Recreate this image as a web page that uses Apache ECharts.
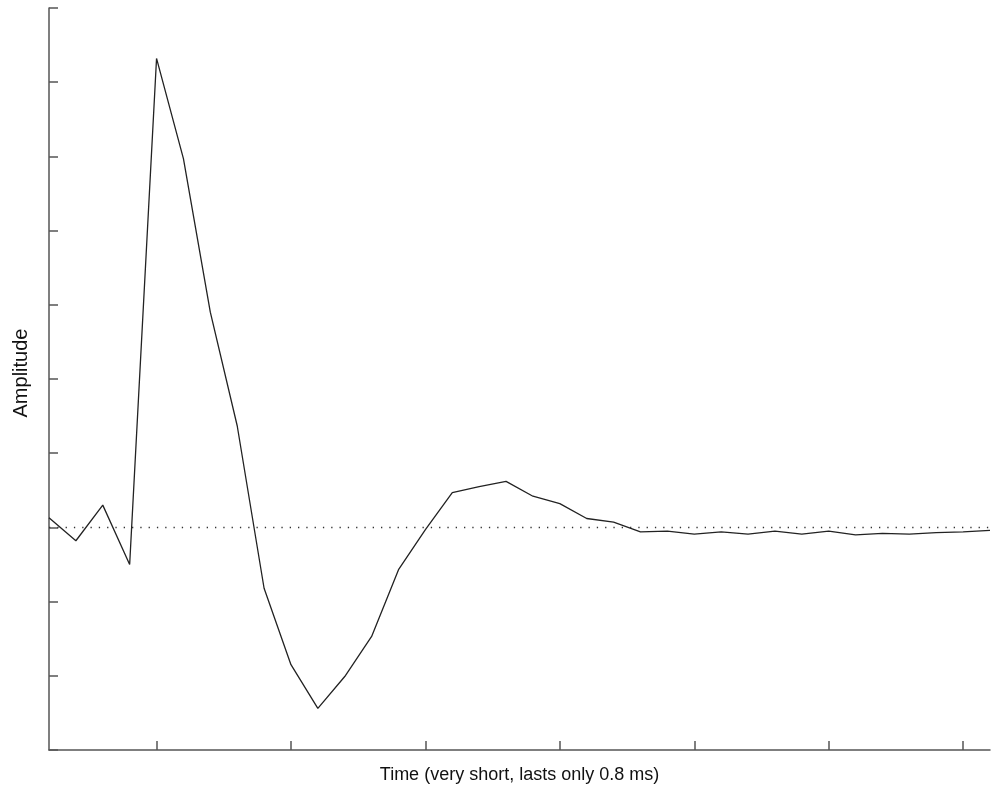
<!DOCTYPE html>
<html>
<head>
<meta charset="utf-8">
<script src="https://cdn.jsdelivr.net/npm/echarts@6/dist/echarts.min.js"></script>
<style>
html,body{margin:0;padding:0;background:#fff;}
#chart{width:1000px;height:798px;}
</style>
</head>
<body>
<div id="chart"></div>
<script>
// sample index along the time axis (36 samples spanning the plot)
const samples = Array.from({length: 36}, (_, i) => String(i));
// amplitude values
const amplitude = [
  0.13, -0.18, 0.30, -0.50, 6.32, 4.97, 2.90, 1.37, -0.82, -1.85,
  -2.44, -2.01, -1.47, -0.57, -0.03, 0.47, 0.55, 0.62, 0.42, 0.32,
  0.12, 0.07, -0.06, -0.05, -0.09, -0.06, -0.09, -0.05, -0.09, -0.05,
  -0.10, -0.08, -0.09, -0.07, -0.06, -0.04
];
// positions (sample indices) where x ticks are drawn
const xTickIdx = [4, 9, 14, 19, 24, 29, 34];
const yMin = -3, yMax = 7, yStep = 1;
const xTitle = 'Time (very short, lasts only 0.8 ms)';
const yTitle = 'Amplitude';

const axisCol = '#555';
const chart = echarts.init(document.getElementById('chart'), null, {renderer: 'canvas'});
chart.setOption({
  animation: false,
  backgroundColor: '#fff',
  grid: {left: 49, right: 10, top: 8, bottom: 48, containLabel: false},
  xAxis: {
    type: 'category',
    data: samples,
    boundaryGap: false,
    name: xTitle,
    nameLocation: 'middle',
    nameGap: 16,
    nameTextStyle: {fontFamily: 'Liberation Sans', fontSize: 18, color: '#111', verticalAlign: 'top'},
    axisLine: {show: true, onZero: false, lineStyle: {color: axisCol, width: 1.5}},
    axisTick: {show: true, inside: true, length: 9, lineStyle: {color: axisCol, width: 1.5},
      interval: (idx) => xTickIdx.indexOf(idx) >= 0},
    axisLabel: {show: false},
    splitLine: {show: false}
  },
  yAxis: {
    type: 'value',
    min: yMin, max: yMax, interval: yStep,
    name: yTitle,
    nameLocation: 'middle',
    nameGap: 18,
    nameTextStyle: {fontFamily: 'Liberation Sans', fontSize: 20, color: '#111', padding: [0, 0, 0, 12]},
    axisLine: {show: true, onZero: false, lineStyle: {color: axisCol, width: 1.5}},
    axisTick: {show: true, inside: true, length: 9, lineStyle: {color: axisCol, width: 1.5}},
    axisLabel: {show: false},
    splitLine: {show: false}
  },
  series: [{
    type: 'line',
    data: amplitude,
    symbol: 'none',
    lineStyle: {color: '#222', width: 1.3},
    z: 3,
    markLine: {
      silent: true,
      symbol: ['none', 'none'],
      label: {show: false},
      lineStyle: {color: '#333', width: 1.3, type: [1.3, 7]},
      data: [{yAxis: 0}]
    }
  }]
});
</script>
</body>
</html>
